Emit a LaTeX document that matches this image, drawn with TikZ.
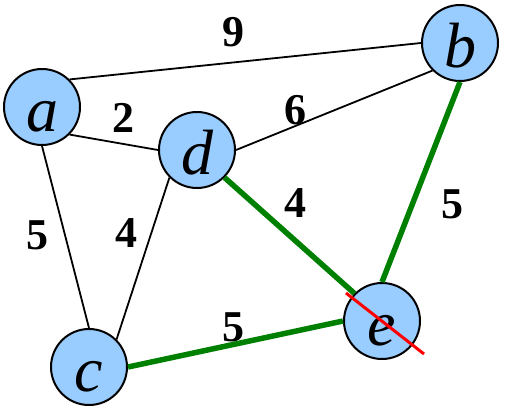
\documentclass[tikz,border=0pt]{standalone}
\usepackage{fontspec}
\setmainfont{Liberation Serif}
\usepackage{tikz}
\definecolor{nodeblue}{HTML}{99CCFF}
\definecolor{treegreen}{HTML}{008000}

\begin{document}
\begin{tikzpicture}[x=1pt, y=-1pt,
  vertex/.style={circle, draw, line width=2pt, fill=nodeblue, minimum size=76pt, inner sep=0pt,
    text height=48pt, text depth=0pt, font=\fontsize{64}{64}\selectfont\itshape},
  weight/.style={font=\fontsize{44}{44}\selectfont\bfseries},
  edge/.style={line width=1.8pt},
  treeedge/.style={line width=5.5pt, draw=treegreen}]
\useasboundingbox (0,0) rectangle (505,410);
% vertices
\node[vertex] (a) at (42,107) {a};
\node[vertex] (b) at (460,43) {b};
\node[vertex] (d) at (197,150) {d};
\node[vertex] (c) at (89,367) {c};
\node[vertex] (e) at (382,321) {e};
% edges
\draw[edge] (a.north east) -- (b.west);
\draw[edge] (a.south east) -- (d.west);
\draw[edge] (d.east) -- (b.south west);
\draw[edge] (a.south) -- (c.north);
\draw[edge] (d.south west) -- (c.north east);
\draw[treeedge] (d.south east) -- (e.north west);
\draw[treeedge] (b.south) -- (e.north);
\draw[treeedge] (c.east) -- (e.west);
% weights
\node[weight] (w-ab) at (233,32) {9};
\node[weight] (w-ad) at (123,118) {2};
\node[weight] (w-db) at (295,110) {6};
\node[weight] (w-ac) at (37,235) {5};
\node[weight] (w-dc) at (126,233) {4};
\node[weight] (w-de) at (295,203) {4};
\node[weight] (w-be) at (452,204) {5};
\node[weight] (w-ce) at (233,327) {5};
% removed vertex
\coordinate (x1) at (346,293);
\coordinate (x2) at (424,354);
\draw[line width=3pt, red] (x1) -- (x2);
\end{tikzpicture}
\end{document}
